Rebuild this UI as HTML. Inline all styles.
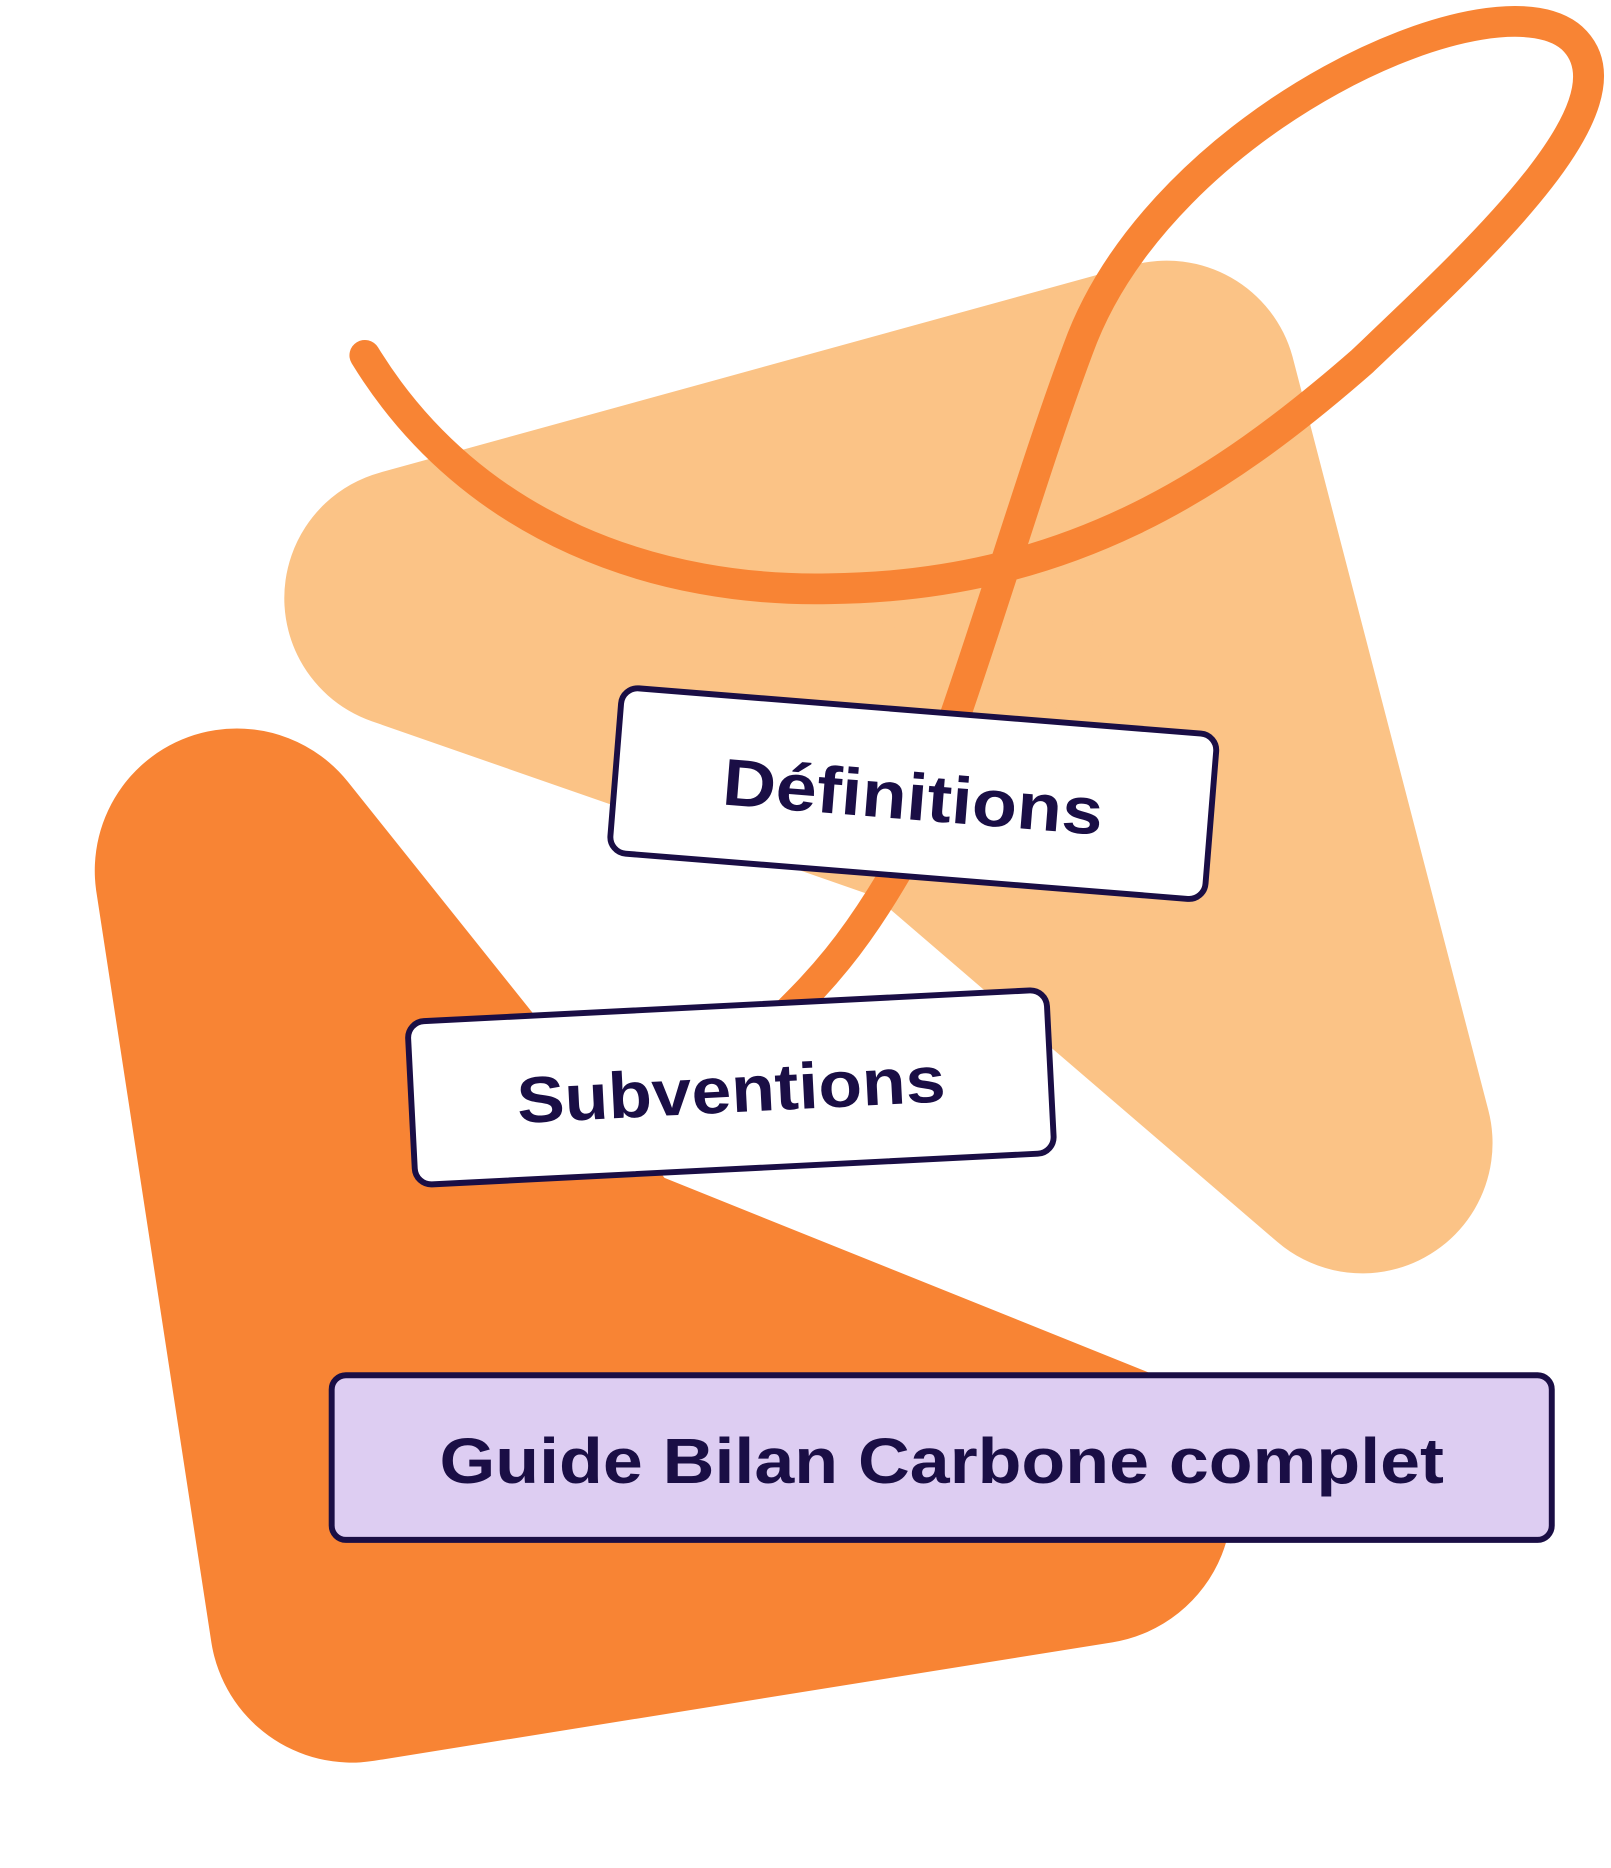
<!DOCTYPE html>
<html><head><meta charset="utf-8"><style>html,body{margin:0;padding:0;background:#fff}svg{display:block}</style></head>
<body>
<svg width="1611" height="1868" viewBox="0 0 1360 1577" preserveAspectRatio="none" xmlns="http://www.w3.org/2000/svg">
<path d="M350,505 L985,330 L1150,965 L795,660 Z" fill="#FBC386" stroke="#FBC386" stroke-width="220" stroke-linejoin="round"/>
<path d="M200,735 L487,1094 L920,1268 L297,1368 Z" fill="#F88434" stroke="#F88434" stroke-width="240" stroke-linejoin="round"/>
<path d="M308,300 C400,450 560,500 700,497 C900,495 1030,410 1150,305 C1250,210 1380,90 1330,35 C1270,-30 980,100 910,295 C865,415 820,580 760,730 C720,800 690,830 665,855" fill="none" stroke="#F88434" stroke-width="26" stroke-linecap="round"/>
<g transform="translate(771,670) rotate(4.6)">
<rect x="-252" y="-70" width="504" height="140" rx="14" fill="#fff" stroke="#1a0e45" stroke-width="5"/>
<text x="0" y="22" text-anchor="middle" font-family="Liberation Sans, sans-serif" font-weight="bold" font-size="56" fill="#1a0e45" textLength="322" lengthAdjust="spacingAndGlyphs">Définitions</text>
</g>
<g transform="translate(617,918) rotate(-2.9)">
<rect x="-270" y="-69" width="540" height="138" rx="14" fill="#fff" stroke="#1a0e45" stroke-width="5"/>
<text x="0" y="21" text-anchor="middle" font-family="Liberation Sans, sans-serif" font-weight="bold" font-size="55" fill="#1a0e45" textLength="362" lengthAdjust="spacingAndGlyphs">Subventions</text>
</g>
<rect x="280" y="1161" width="1030" height="139" rx="12" fill="#DDCDF2" stroke="#1a0e45" stroke-width="5"/>
<text x="795" y="1252" text-anchor="middle" font-family="Liberation Sans, sans-serif" font-weight="bold" font-size="54" fill="#1a0e45" textLength="848" lengthAdjust="spacingAndGlyphs">Guide Bilan Carbone complet</text>
</svg>
</body></html>
